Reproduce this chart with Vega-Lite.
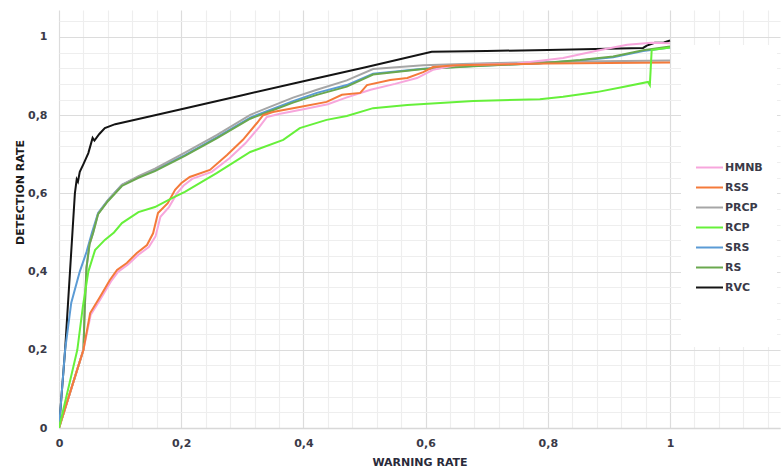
{
  "$schema": "https://vega.github.io/schema/vega-lite/v6.json",
  "width": 721,
  "height": 418,
  "autosize": {"type": "none"},
  "padding": {"left": 59, "top": 10, "right": 2, "bottom": 44},
  "background": "white",
  "config": {
    "view": {"stroke": null},
    "font": "DejaVu Sans"
  },
  "data": {
    "values": [
      {"s":"RVC","x":0,"y":0},{"s":"RVC","x":0.01,"y":0.2},{"s":"RVC","x":0.018,"y":0.4},{"s":"RVC","x":0.022,"y":0.5},{"s":"RVC","x":0.026,"y":0.6},{"s":"RVC","x":0.029,"y":0.636},{"s":"RVC","x":0.031,"y":0.63},{"s":"RVC","x":0.034,"y":0.655},{"s":"RVC","x":0.04,"y":0.675},{"s":"RVC","x":0.048,"y":0.703},{"s":"RVC","x":0.055,"y":0.742},{"s":"RVC","x":0.058,"y":0.735},{"s":"RVC","x":0.066,"y":0.752},{"s":"RVC","x":0.075,"y":0.767},{"s":"RVC","x":0.092,"y":0.777},{"s":"RVC","x":0.13,"y":0.79},{"s":"RVC","x":0.2,"y":0.815},{"s":"RVC","x":0.3,"y":0.851},{"s":"RVC","x":0.4,"y":0.887},{"s":"RVC","x":0.5,"y":0.922},{"s":"RVC","x":0.61,"y":0.962},{"s":"RVC","x":0.7,"y":0.964},{"s":"RVC","x":0.8,"y":0.967},{"s":"RVC","x":0.956,"y":0.972},{"s":"RVC","x":0.962,"y":0.978},{"s":"RVC","x":0.975,"y":0.985},{"s":"RVC","x":0.99,"y":0.986},{"s":"RVC","x":1.0,"y":0.991},

      {"s":"SRS","x":0,"y":0},{"s":"SRS","x":0.01,"y":0.2},{"s":"SRS","x":0.02,"y":0.32},{"s":"SRS","x":0.034,"y":0.4},{"s":"SRS","x":0.045,"y":0.45},{"s":"SRS","x":0.054,"y":0.5},{"s":"SRS","x":0.064,"y":0.55},{"s":"SRS","x":0.08,"y":0.583},{"s":"SRS","x":0.103,"y":0.622},{"s":"SRS","x":0.13,"y":0.642},{"s":"SRS","x":0.157,"y":0.66},{"s":"SRS","x":0.206,"y":0.698},{"s":"SRS","x":0.258,"y":0.743},{"s":"SRS","x":0.313,"y":0.794},{"s":"SRS","x":0.34,"y":0.81},{"s":"SRS","x":0.383,"y":0.836},{"s":"SRS","x":0.422,"y":0.857},{"s":"SRS","x":0.471,"y":0.877},{"s":"SRS","x":0.514,"y":0.906},{"s":"SRS","x":0.596,"y":0.919},{"s":"SRS","x":0.678,"y":0.926},{"s":"SRS","x":0.787,"y":0.933},{"s":"SRS","x":0.853,"y":0.94},{"s":"SRS","x":0.907,"y":0.948},{"s":"SRS","x":0.956,"y":0.964},{"s":"SRS","x":1.0,"y":0.973},

      {"s":"PRCP","x":0,"y":0},{"s":"PRCP","x":0.02,"y":0.1},{"s":"PRCP","x":0.04,"y":0.2},{"s":"PRCP","x":0.042,"y":0.3},{"s":"PRCP","x":0.045,"y":0.41},{"s":"PRCP","x":0.05,"y":0.47},{"s":"PRCP","x":0.056,"y":0.5},{"s":"PRCP","x":0.064,"y":0.548},{"s":"PRCP","x":0.08,"y":0.582},{"s":"PRCP","x":0.103,"y":0.622},{"s":"PRCP","x":0.13,"y":0.644},{"s":"PRCP","x":0.157,"y":0.663},{"s":"PRCP","x":0.206,"y":0.704},{"s":"PRCP","x":0.258,"y":0.749},{"s":"PRCP","x":0.313,"y":0.801},{"s":"PRCP","x":0.34,"y":0.818},{"s":"PRCP","x":0.383,"y":0.845},{"s":"PRCP","x":0.422,"y":0.865},{"s":"PRCP","x":0.471,"y":0.889},{"s":"PRCP","x":0.514,"y":0.918},{"s":"PRCP","x":0.596,"y":0.928},{"s":"PRCP","x":0.7,"y":0.933},{"s":"PRCP","x":0.85,"y":0.937},{"s":"PRCP","x":1.0,"y":0.94},

      {"s":"RS","x":0,"y":0},{"s":"RS","x":0.02,"y":0.1},{"s":"RS","x":0.04,"y":0.2},{"s":"RS","x":0.042,"y":0.3},{"s":"RS","x":0.045,"y":0.41},{"s":"RS","x":0.05,"y":0.47},{"s":"RS","x":0.056,"y":0.5},{"s":"RS","x":0.064,"y":0.547},{"s":"RS","x":0.08,"y":0.58},{"s":"RS","x":0.103,"y":0.619},{"s":"RS","x":0.13,"y":0.64},{"s":"RS","x":0.157,"y":0.657},{"s":"RS","x":0.206,"y":0.696},{"s":"RS","x":0.258,"y":0.741},{"s":"RS","x":0.313,"y":0.791},{"s":"RS","x":0.34,"y":0.807},{"s":"RS","x":0.383,"y":0.832},{"s":"RS","x":0.422,"y":0.852},{"s":"RS","x":0.471,"y":0.873},{"s":"RS","x":0.514,"y":0.904},{"s":"RS","x":0.596,"y":0.918},{"s":"RS","x":0.678,"y":0.925},{"s":"RS","x":0.787,"y":0.933},{"s":"RS","x":0.853,"y":0.941},{"s":"RS","x":0.907,"y":0.95},{"s":"RS","x":0.956,"y":0.966},{"s":"RS","x":1.0,"y":0.976},

      {"s":"HMNB","x":0,"y":0},{"s":"HMNB","x":0.02,"y":0.1},{"s":"HMNB","x":0.04,"y":0.2},{"s":"HMNB","x":0.052,"y":0.29},{"s":"HMNB","x":0.068,"y":0.33},{"s":"HMNB","x":0.085,"y":0.375},{"s":"HMNB","x":0.097,"y":0.4},{"s":"HMNB","x":0.113,"y":0.418},{"s":"HMNB","x":0.13,"y":0.443},{"s":"HMNB","x":0.147,"y":0.463},{"s":"HMNB","x":0.158,"y":0.49},{"s":"HMNB","x":0.166,"y":0.54},{"s":"HMNB","x":0.18,"y":0.565},{"s":"HMNB","x":0.193,"y":0.6},{"s":"HMNB","x":0.204,"y":0.62},{"s":"HMNB","x":0.218,"y":0.637},{"s":"HMNB","x":0.25,"y":0.655},{"s":"HMNB","x":0.279,"y":0.69},{"s":"HMNB","x":0.305,"y":0.728},{"s":"HMNB","x":0.328,"y":0.77},{"s":"HMNB","x":0.34,"y":0.795},{"s":"HMNB","x":0.36,"y":0.803},{"s":"HMNB","x":0.4,"y":0.815},{"s":"HMNB","x":0.44,"y":0.828},{"s":"HMNB","x":0.47,"y":0.845},{"s":"HMNB","x":0.51,"y":0.865},{"s":"HMNB","x":0.55,"y":0.88},{"s":"HMNB","x":0.586,"y":0.895},{"s":"HMNB","x":0.612,"y":0.916},{"s":"HMNB","x":0.651,"y":0.928},{"s":"HMNB","x":0.75,"y":0.932},{"s":"HMNB","x":0.825,"y":0.946},{"s":"HMNB","x":0.88,"y":0.965},{"s":"HMNB","x":0.93,"y":0.98},{"s":"HMNB","x":0.97,"y":0.985},{"s":"HMNB","x":1.0,"y":0.984},

      {"s":"RSS","x":0,"y":0},{"s":"RSS","x":0.02,"y":0.1},{"s":"RSS","x":0.04,"y":0.2},{"s":"RSS","x":0.051,"y":0.294},{"s":"RSS","x":0.067,"y":0.335},{"s":"RSS","x":0.083,"y":0.378},{"s":"RSS","x":0.095,"y":0.404},{"s":"RSS","x":0.111,"y":0.422},{"s":"RSS","x":0.127,"y":0.447},{"s":"RSS","x":0.144,"y":0.468},{"s":"RSS","x":0.154,"y":0.498},{"s":"RSS","x":0.162,"y":0.55},{"s":"RSS","x":0.178,"y":0.575},{"s":"RSS","x":0.19,"y":0.609},{"s":"RSS","x":0.2,"y":0.626},{"s":"RSS","x":0.214,"y":0.642},{"s":"RSS","x":0.247,"y":0.66},{"s":"RSS","x":0.275,"y":0.698},{"s":"RSS","x":0.301,"y":0.737},{"s":"RSS","x":0.324,"y":0.78},{"s":"RSS","x":0.334,"y":0.8},{"s":"RSS","x":0.35,"y":0.808},{"s":"RSS","x":0.394,"y":0.821},{"s":"RSS","x":0.438,"y":0.834},{"s":"RSS","x":0.463,"y":0.852},{"s":"RSS","x":0.493,"y":0.857},{"s":"RSS","x":0.504,"y":0.877},{"s":"RSS","x":0.542,"y":0.89},{"s":"RSS","x":0.57,"y":0.895},{"s":"RSS","x":0.596,"y":0.91},{"s":"RSS","x":0.612,"y":0.923},{"s":"RSS","x":0.65,"y":0.928},{"s":"RSS","x":0.8,"y":0.932},{"s":"RSS","x":1.0,"y":0.935},

      {"s":"RCP","x":0,"y":0},{"s":"RCP","x":0.015,"y":0.1},{"s":"RCP","x":0.03,"y":0.2},{"s":"RCP","x":0.039,"y":0.31},{"s":"RCP","x":0.048,"y":0.4},{"s":"RCP","x":0.059,"y":0.455},{"s":"RCP","x":0.075,"y":0.481},{"s":"RCP","x":0.09,"y":0.5},{"s":"RCP","x":0.103,"y":0.524},{"s":"RCP","x":0.13,"y":0.552},{"s":"RCP","x":0.157,"y":0.565},{"s":"RCP","x":0.185,"y":0.588},{"s":"RCP","x":0.206,"y":0.604},{"s":"RCP","x":0.258,"y":0.652},{"s":"RCP","x":0.313,"y":0.706},{"s":"RCP","x":0.367,"y":0.737},{"s":"RCP","x":0.394,"y":0.767},{"s":"RCP","x":0.438,"y":0.788},{"s":"RCP","x":0.471,"y":0.798},{"s":"RCP","x":0.514,"y":0.818},{"s":"RCP","x":0.57,"y":0.826},{"s":"RCP","x":0.624,"y":0.831},{"s":"RCP","x":0.678,"y":0.836},{"s":"RCP","x":0.787,"y":0.841},{"s":"RCP","x":0.825,"y":0.847},{"s":"RCP","x":0.88,"y":0.859},{"s":"RCP","x":0.923,"y":0.872},{"s":"RCP","x":0.964,"y":0.885},{"s":"RCP","x":0.967,"y":0.877},{"s":"RCP","x":0.97,"y":0.967},{"s":"RCP","x":1.0,"y":0.973}
    ]
  },
  "mark": {"type": "line", "strokeWidth": 2, "clip": true},
  "encoding": {
    "x": {
      "field": "x", "type": "quantitative",
      "scale": {"domain": [0, 1.18], "nice": false, "zero": false},
      "axis": {
        "title": "WARNING RATE",
        "values": [0,0.04,0.08,0.12,0.16,0.2,0.24,0.28,0.32,0.36,0.4,0.44,0.48,0.52,0.56,0.6,0.64,0.68,0.72,0.76,0.8,0.84,0.88,0.92,0.96,1,1.04,1.08,1.12,1.16],
        "labelExpr": "abs(datum.value*5 - round(datum.value*5)) < 0.01 ? replace(format(datum.value, '.2~f'), '.', ',') : ''",
        "ticks": false, "tickSize": 0,
        "labelPadding": 9, "labelFlush": false,
        "labelFont": "DejaVu Sans", "labelFontSize": 11, "labelFontWeight": "bold", "labelColor": "#3a3a48",
        "titleFont": "DejaVu Sans", "titleFontSize": 11, "titleFontWeight": "bold", "titleColor": "#2a2a3a",
        "titlePadding": 8,
        "domain": true, "domainColor": "#d8d8d8", "domainWidth": 1.5,
        "grid": true,
        "gridColor": {"condition": {"test": "abs(datum.value*5 - round(datum.value*5)) < 0.01", "value": "#dcdcdc"}, "value": "#eeeeee"},
        "gridWidth": 1.2,
        "labelOverlap": false
      }
    },
    "y": {
      "field": "y", "type": "quantitative",
      "scale": {"domain": [0, 1.069], "nice": false, "zero": false},
      "axis": {
        "title": "DETECTION RATE",
        "values": [0,0.04,0.08,0.12,0.16,0.2,0.24,0.28,0.32,0.36,0.4,0.44,0.48,0.52,0.56,0.6,0.64,0.68,0.72,0.76,0.8,0.84,0.88,0.92,0.96,1,1.04],
        "labelExpr": "abs(datum.value*5 - round(datum.value*5)) < 0.01 ? replace(format(datum.value, '.2~f'), '.', ',') : ''",
        "ticks": false, "tickSize": 0,
        "labelPadding": 12, "labelFlush": false,
        "labelFont": "DejaVu Sans", "labelFontSize": 11, "labelFontWeight": "bold", "labelColor": "#3a3a48",
        "titleFont": "DejaVu Sans", "titleFontSize": 11, "titleFontWeight": "bold", "titleColor": "#1a1a1a",
        "titleX": -36, "titleY": 182, "titleAngle": -90, "titleBaseline": "alphabetic", "titleAlign": "center",
        "domain": false,
        "grid": true,
        "gridColor": {"condition": {"test": "abs(datum.value*5 - round(datum.value*5)) < 0.01", "value": "#dcdcdc"}, "value": "#eeeeee"},
        "gridWidth": 1.2,
        "labelOverlap": false
      }
    },
    "color": {
      "field": "s", "type": "nominal",
      "scale": {
        "domain": ["HMNB","RSS","PRCP","RCP","SRS","RS","RVC"],
        "range": ["#f7a6dc","#f47a3a","#a6a6a6","#66f03a","#5b9bd5","#6aa84f","#141414"]
      },
      "legend": {
        "orient": "none", "legendX": 622, "legendY": 35,
        "title": "\u00a0", "titleFontSize": 1, "titlePadding": 93,
        "values": ["HMNB","RSS","PRCP","RCP","SRS","RS","RVC","\u00a0","\u00a0\u00a0"],
        "symbolType": "stroke", "symbolSize": 729, "symbolStrokeWidth": 2,
        "rowPadding": -6, "labelOffset": 1,
        "labelFont": "DejaVu Sans", "labelFontSize": 11, "labelFontWeight": "bold", "labelColor": "#3a3a48",
        "fillColor": "white", "padding": 14
      }
    },
    "order": {"field": "x", "type": "quantitative"}
  }
}
